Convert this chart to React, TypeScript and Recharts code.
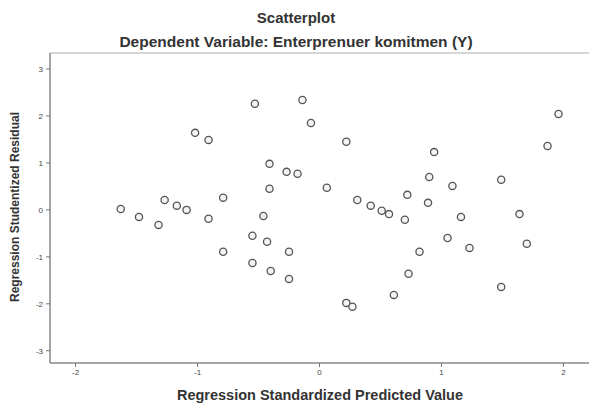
import React from "react";
import { ScatterChart, Scatter, XAxis, YAxis } from "recharts";

const predicted: number[] = [
  -1.63, -1.48, -1.32, -1.27, -1.17, -1.09, -1.02, -0.91, -0.91, -0.79,
  -0.79, -0.53, -0.55, -0.55, -0.46, -0.43, -0.41, -0.41, -0.4, -0.27,
  -0.18, -0.25, -0.25, -0.14, -0.07, 0.06, 0.22, 0.22, 0.27, 0.31,
  0.42, 0.51, 0.57, 0.61, 0.7, 0.72, 0.73, 0.82, 0.89, 0.9,
  0.94, 1.05, 1.09, 1.16, 1.23, 1.49, 1.49, 1.64, 1.7, 1.87, 1.96,
];
const residual: number[] = [
  0.02, -0.15, -0.32, 0.21, 0.09, 0.0, 1.64, 1.49, -0.19, 0.26,
  -0.89, 2.26, -0.55, -1.13, -0.13, -0.68, 0.98, 0.45, -1.3, 0.81,
  0.77, -0.89, -1.47, 2.34, 1.85, 0.47, 1.45, -1.98, -2.06, 0.21,
  0.09, -0.02, -0.09, -1.81, -0.21, 0.32, -1.36, -0.89, 0.15, 0.7,
  1.23, -0.6, 0.51, -0.15, -0.81, 0.64, -1.64, -0.09, -0.72, 1.36, 2.04,
];
const xTicks: number[] = [-2, -1, 0, 1, 2];
const yTicks: number[] = [-3, -2, -1, 0, 1, 2, 3];

const title = "Scatterplot";
const subtitle = "Dependent Variable: Enterprenuer komitmen (Y)";
const xTitle = "Regression Standardized Predicted Value";
const yTitle = "Regression Studentized Residual";

const data = predicted.map((x, i) => ({ x, y: residual[i] }));

const FONT = "'Liberation Sans', Arial, sans-serif";

const Ring = (props: any) => {
  const { cx, cy } = props;
  if (cx == null || cy == null) return <g />;
  return <circle cx={cx} cy={cy} r={3.6} fill="#f4f4f4" stroke="#555" strokeWidth={1.3} />;
};

const tickStyle = { fontSize: 8, fill: "#444", fontFamily: FONT };

export default function App() {
  return (
    <div style={{ position: "absolute", left: 0, top: 0, width: 590, height: 405, background: "#fff", fontFamily: FONT }}>
      <div style={{ position: "absolute", left: 0, width: 592, top: 9, lineHeight: "18px", textAlign: "center", fontSize: 15, fontWeight: "bold", color: "#333" }}>
        {title}
      </div>
      <div style={{ position: "absolute", left: 0, width: 592, top: 33, lineHeight: "18px", textAlign: "center", fontSize: 15.5, fontWeight: "bold", color: "#333" }}>
        {subtitle}
      </div>
      <ScatterChart width={590} height={405} margin={{ top: 52, right: 1, bottom: 22, left: 20 }}>
        <XAxis
          type="number"
          dataKey="x"
          xAxisId={0}
          domain={[-2.21, 2.21]}
          ticks={xTicks}
          height={20}
          tickSize={4}
          tickMargin={2}
          tick={tickStyle}
          stroke="#777"
          axisLine={{ stroke: "#888", strokeWidth: 1.5 }}
          allowDataOverflow
        />
        <XAxis
          type="number"
          dataKey="x"
          xAxisId="top"
          orientation="top"
          domain={[-2.21, 2.21]}
          height={1}
          tick={false}
          tickLine={false}
          axisLine={{ stroke: "#c8c8c8", strokeWidth: 1.5 }}
          allowDataOverflow
        />
        <YAxis
          type="number"
          dataKey="y"
          yAxisId={0}
          domain={[-3.26, 3.34]}
          ticks={yTicks}
          width={30}
          tickSize={4}
          tickMargin={3}
          tick={tickStyle}
          stroke="#777"
          axisLine={{ stroke: "#888", strokeWidth: 1.5 }}
          allowDataOverflow
        />
        <YAxis
          type="number"
          dataKey="y"
          yAxisId="right"
          orientation="right"
          domain={[-3.26, 3.34]}
          width={0}
          tick={false}
          tickLine={false}
          axisLine={{ stroke: "#c8c8c8", strokeWidth: 1.5 }}
          allowDataOverflow
        />
        <Scatter data={data} xAxisId={0} yAxisId={0} shape={Ring} isAnimationActive={false} />
      </ScatterChart>
      <div style={{ position: "absolute", left: 0, width: 640, top: 386, lineHeight: "18px", textAlign: "center", fontSize: 14.5, fontWeight: "bold", color: "#333" }}>
        {xTitle}
      </div>
      <div
        style={{
          position: "absolute",
          left: 15,
          top: 207,
          width: 0,
          height: 0,
        }}
      >
        <div
          style={{
            position: "absolute",
            left: -150,
            top: -8,
            width: 300,
            lineHeight: "16px",
            textAlign: "center",
            fontSize: 12,
            fontWeight: "bold",
            color: "#333",
            transform: "rotate(-90deg)",
            whiteSpace: "nowrap",
          }}
        >
          {yTitle}
        </div>
      </div>
    </div>
  );
}
